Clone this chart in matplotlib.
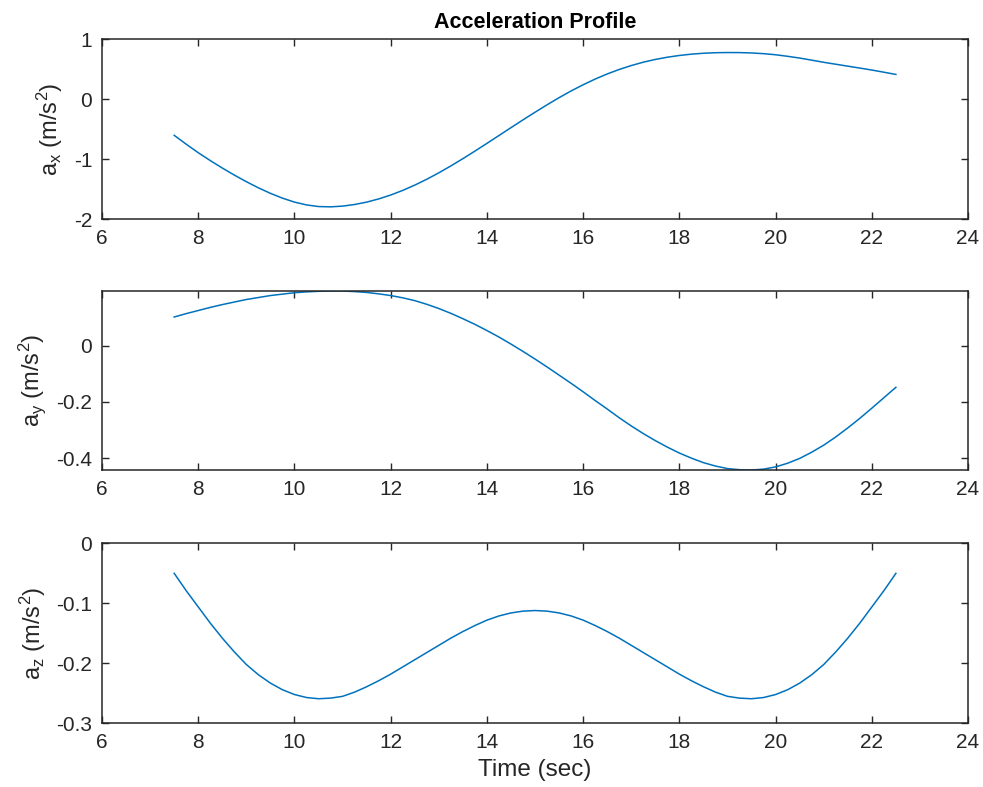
import numpy as np
import matplotlib
matplotlib.use("Agg")
from matplotlib import pyplot as plt
from matplotlib.ticker import FormatStrFormatter

plt.rcParams['font.family'] = ['Liberation Sans', 'DejaVu Sans']
plt.rcParams['mathtext.fontset'] = 'custom'
plt.rcParams['mathtext.rm'] = 'Liberation Sans'
plt.rcParams['mathtext.it'] = 'Liberation Sans'
plt.rcParams['axes.unicode_minus'] = False

# time samples (sec), every 0.25 s
t = [7.5, 7.75, 8, 8.25, 8.5, 8.75, 9, 9.25, 9.5, 9.75, 10, 10.25, 10.5, 10.75,
     11, 11.25, 11.5, 11.75, 12, 12.25, 12.5, 12.75, 13, 13.25, 13.5, 13.75,
     14, 14.25, 14.5, 14.75, 15, 15.25, 15.5, 15.75, 16, 16.25, 16.5, 16.75,
     17, 17.25, 17.5, 17.75, 18, 18.25, 18.5, 18.75, 19, 19.25, 19.5, 19.75,
     20, 20.25, 20.5, 20.75, 21, 21.25, 21.5, 21.75, 22, 22.25, 22.5]

ax_vals = [-0.605, -0.753, -0.895, -1.026, -1.150, -1.268, -1.378, -1.480, -1.572,
           -1.652, -1.718, -1.765, -1.792, -1.797, -1.785, -1.758, -1.718, -1.665,
           -1.600, -1.523, -1.435, -1.337, -1.230, -1.115, -0.994, -0.868, -0.739,
           -0.608, -0.477, -0.347, -0.220, -0.096, 0.023, 0.135, 0.238, 0.333,
           0.418, 0.493, 0.558, 0.614, 0.660, 0.697, 0.726, 0.748, 0.763, 0.772,
           0.775, 0.774, 0.768, 0.756, 0.738, 0.712, 0.683, 0.648, 0.612, 0.580,
           0.548, 0.516, 0.483, 0.447, 0.410]

ay_vals = [0.101, 0.113, 0.124, 0.135, 0.145, 0.154, 0.163, 0.170, 0.177, 0.182,
           0.187, 0.190, 0.192, 0.193, 0.193, 0.191, 0.188, 0.183, 0.177, 0.169,
           0.159, 0.146, 0.131, 0.114, 0.095, 0.075, 0.053, 0.030, 0.005, -0.021,
           -0.048, -0.076, -0.105, -0.134, -0.164, -0.195, -0.225, -0.256, -0.285,
           -0.312, -0.337, -0.360, -0.381, -0.399, -0.415, -0.427, -0.436, -0.440,
           -0.441, -0.438, -0.430, -0.417, -0.400, -0.378, -0.353, -0.324, -0.292,
           -0.258, -0.222, -0.185, -0.148]

az_vals = [-0.050, -0.079, -0.106, -0.133, -0.158, -0.181, -0.202, -0.219, -0.233,
           -0.244, -0.252, -0.257, -0.259, -0.258, -0.255, -0.248, -0.239, -0.229,
           -0.218, -0.206, -0.194, -0.182, -0.170, -0.158, -0.147, -0.137, -0.128,
           -0.121, -0.116, -0.113, -0.112, -0.113, -0.116, -0.121, -0.128, -0.137,
           -0.147, -0.158, -0.170, -0.182, -0.194, -0.206, -0.218, -0.229, -0.239,
           -0.248, -0.255, -0.258, -0.259, -0.257, -0.252, -0.244, -0.233, -0.219,
           -0.202, -0.181, -0.158, -0.133, -0.106, -0.079, -0.050]

x_ticks = [6, 8, 10, 12, 14, 16, 18, 20, 22, 24]
ax_ticks = [-2, -1, 0, 1]
ay_ticks = [-0.4, -0.2, 0]
az_ticks = [-0.3, -0.2, -0.1, 0]

ylabels = [r'a$_\mathrm{x}$ (m/s$^\mathrm{2}$)',
           r'a$_\mathrm{y}$ (m/s$^\mathrm{2}$)',
           r'a$_\mathrm{z}$ (m/s$^\mathrm{2}$)']

dark = '#262626'
line_col = '#0072BD'

fig = plt.figure(figsize=(9.83, 7.87), dpi=100)
positions = [[0.1038, 0.7217, 0.881, 0.2287],
             [0.1038, 0.4028, 0.881, 0.2274],
             [0.1038, 0.0809, 0.881, 0.2287]]
series = [ax_vals, ay_vals, az_vals]
yticks = [ax_ticks, ay_ticks, az_ticks]
ylims = [(-2, 1), (min(ay_vals), max(ay_vals)), (-0.3, 0)]

for i in range(3):
    a = fig.add_axes(positions[i])
    a.plot(t, series[i], color=line_col, lw=1.1)
    a.set_xlim(6, 24)
    a.set_ylim(*ylims[i])
    a.set_xticks(x_ticks)
    a.set_yticks(yticks[i])
    a.yaxis.set_major_formatter(FormatStrFormatter('%g'))
    a.tick_params(direction='in', length=5, width=1, colors=dark,
                  labelsize=15, top=True, right=True, pad=7)
    for s in a.spines.values():
        s.set_color(dark)
        s.set_linewidth(1.1)
    a.set_ylabel(ylabels[i], fontsize=17, color=dark, labelpad=6)
    if i == 0:
        a.set_title('Acceleration Profile', fontsize=15.5, fontweight='bold',
                    color='black', pad=8)
    if i == 2:
        a.set_xlabel('Time (sec)', fontsize=17.5, color=dark, labelpad=5)

fig.savefig('out.png', dpi=100)
